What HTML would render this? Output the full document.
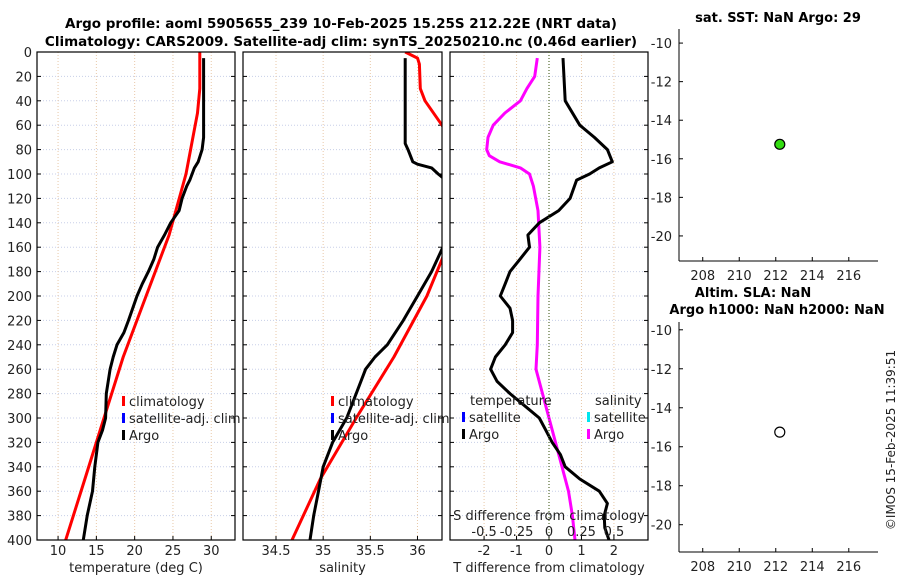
<!DOCTYPE html>
<html><head><meta charset="utf-8"><style>
body{margin:0;background:#fff}
svg{display:block;font-family:"DejaVu Sans","Liberation Sans",sans-serif}
</style></head><body>
<svg id="c" width="900" height="580" xmlns="http://www.w3.org/2000/svg">
<rect width="900" height="580" fill="#fff"/>
<text x="341" y="28" text-anchor="middle" font-size="13.5" font-weight="bold">Argo profile: aoml 5905655_239 10-Feb-2025 15.25S 212.22E (NRT data)</text>
<text x="341" y="46" text-anchor="middle" font-size="13.5" font-weight="bold">Climatology: CARS2009. Satellite-adj clim: synTS_20250210.nc (0.46d earlier)</text>
<text x="778" y="22" text-anchor="middle" font-size="13" font-weight="bold">sat. SST: NaN Argo: 29</text>
<text x="753" y="297" text-anchor="middle" font-size="13" font-weight="bold">Altim. SLA: NaN</text>
<text x="777" y="314" text-anchor="middle" font-size="13" font-weight="bold">Argo h1000: NaN h2000: NaN</text>
<text transform="translate(895,440) rotate(-90)" text-anchor="middle" font-size="12" fill="#222">©IMOS 15-Feb-2025 11:39:51</text>
</svg>
<script>
// ---- data ----
const depthTicks=[0,20,40,60,80,100,120,140,160,180,200,220,240,260,280,300,320,340,360,380,400];
const tTicks=[10,15,20,25,30];
const sTicks=[34.5,35,35.5,36];
const dTTicks=[-2,-1,0,1,2];
const dSTicks=[-0.5,-0.25,0,0.25,0.5];
const dSTickLabels=["-0.5","-0.25","0","0.25","0.5"];
const argoTDepth=[5,70,80,90,95,100,105,110,120,130,140,150,160,170,180,190,200,220,230,240,250,260,280,300,310,320,340,360,380,400];
const argoTemp=[29.0,29.0,28.8,28.3,27.8,27.5,27.2,26.8,26.2,25.8,24.7,23.9,23.0,22.5,21.8,21.0,20.3,19.2,18.6,17.7,17.2,16.8,16.3,16.2,15.8,15.2,14.8,14.5,13.8,13.3];
const climTDepth=[0,30,50,100,150,200,250,300,350,400];
const climTemp=[28.5,28.5,28.2,26.7,24.5,21.5,18.5,16.0,13.5,11.0];
const argoSDepth=[5,75,80,90,92,95,100,105,120,160,180,200,220,240,250,260,280,300,320,340,360,380,400];
const argoSal=[35.87,35.87,35.9,35.95,36.0,36.15,36.22,36.3,36.5,36.27,36.15,36.0,35.85,35.68,35.55,35.45,35.35,35.25,35.1,35.0,34.95,34.9,34.86];
const climSDepth=[0,5,10,30,40,60,70,120,170,200,250,300,350,400];
const climSal=[35.87,36.0,36.02,36.03,36.08,36.26,36.35,36.5,36.26,36.1,35.75,35.35,34.97,34.67];
const dTDepth=[5,40,60,70,80,90,95,100,105,120,130,140,150,160,170,180,190,200,210,220,230,240,250,260,270,280,290,300,310,320,330,340,350,360,370,380,390,400];
const dTVals=[0.43,0.5,0.95,1.4,1.8,1.95,1.55,1.25,0.85,0.65,0.3,-0.3,-0.65,-0.6,-0.9,-1.2,-1.35,-1.5,-1.2,-1.12,-1.12,-1.35,-1.65,-1.8,-1.6,-1.2,-0.75,-0.3,-0.1,0.1,0.35,0.5,0.95,1.55,1.8,1.7,1.72,1.85];
const dSDepth=[5,20,30,40,50,60,70,80,85,90,95,100,110,130,160,200,240,260,280,300,320,340,360,380,400];
const dSVals=[-0.09,-0.11,-0.17,-0.22,-0.34,-0.43,-0.47,-0.48,-0.46,-0.38,-0.22,-0.15,-0.12,-0.085,-0.07,-0.085,-0.09,-0.1,-0.05,0,0.05,0.1,0.15,0.18,0.2];
const lonTicks=[208,210,212,214,216];
const latTicks=[-10,-12,-14,-16,-18,-20];
const floatLon=[212.22];
const floatLat=[-15.25];

const svg=document.getElementById('c');
const NS='http://www.w3.org/2000/svg';
function el(tag,attrs,parent){const e=document.createElementNS(NS,tag);for(const k in attrs)e.setAttribute(k,attrs[k]);(parent||svg).appendChild(e);return e;}
const Y0=52,Y1=540;
const yD=d=>Y0+(d/400)*(Y1-Y0);

function profilePanel(name,x0,x1,xmin,xmax,ticks,labels,xlabel,showY){
  const g=el('g',{});
  
  
  const sx=v=>x0+(v-xmin)/(xmax-xmin)*(x1-x0);
  const cid='clip-'+name;
  const cp=el('clipPath',{id:cid},g);el('rect',{x:x0,y:Y0,width:x1-x0,height:Y1-Y0},cp);
  depthTicks.forEach(d=>{const l=el('line',{x1:x0,x2:x1,y1:yD(d),y2:yD(d),stroke:'#c8cfe8','stroke-width':1,'stroke-dasharray':'1,2'},g);
    
    el('line',{x1:x0,x2:x0+4,y1:yD(d),y2:yD(d),stroke:'#000'},g);el('line',{x1:x1,x2:x1-4,y1:yD(d),y2:yD(d),stroke:'#000'},g);
    if(showY){const t=el('text',{x:x0-5,y:yD(d)+5,'text-anchor':'end','font-size':13,fill:'#222'},g);t.textContent=d;
      }
  });
  ticks.forEach((v,i)=>{const l=el('line',{x1:sx(v),x2:sx(v),y1:Y0,y2:Y1,stroke:'#e8c8a8','stroke-width':1,'stroke-dasharray':'1,2'},g);
    
    el('line',{x1:sx(v),x2:sx(v),y1:Y1,y2:Y1-4,stroke:'#000'},g);
    const t=el('text',{x:sx(v),y:Y1+15,'text-anchor':'middle','font-size':13,fill:'#222'},g);t.textContent=labels[i];
    });
  const xl=el('text',{x:(x0+x1)/2,y:Y1+32,'text-anchor':'middle','font-size':13,fill:'#222'},g);xl.textContent=xlabel;
  
  const plot=el('g',{'clip-path':'url(#'+cid+')'},g);
  const fr=el('rect',{x:x0,y:Y0,width:x1-x0,height:Y1-Y0,fill:'none',stroke:'#000','stroke-width':1.2},g);
  
  return {g,plot,sx};
}
function line(p,sx,xs,ds,color,name){
  const pts=xs.map((v,i)=>sx(v).toFixed(1)+','+yD(ds[i]).toFixed(1)).join(' ');
  const l=el('polyline',{points:pts,fill:'none',stroke:color,'stroke-width':3,'stroke-linejoin':'round'},p);
  
}
function legend(g,x,y,items){
  items.forEach((it,i)=>{
    el('rect',{x:x,y:y+i*17-10,width:3,height:10,fill:it[1]},g);
    const t=el('text',{x:x+7,y:y+i*17,'font-size':13,fill:'#222'},g);t.textContent=it[0];
    
  });
}

// Panel 1 temperature
const p1=profilePanel('temperature-panel',37,235,7.25,33.1,tTicks,tTicks.map(String),'temperature (deg C)',true);
line(p1.plot,p1.sx,climTemp,climTDepth,'#ff0000','climatology-temp-line');
line(p1.plot,p1.sx,argoTemp,argoTDepth,'#000','argo-temp-line');
legend(p1.g,122,406,[['climatology','#ff0000'],['satellite-adj. clim','#0000ff'],['Argo','#000']]);

// Panel 2 salinity
const p2=profilePanel('salinity-panel',243,442,34.15,36.26,sTicks,sTicks.map(String),'salinity',false);
line(p2.plot,p2.sx,climSal,climSDepth,'#ff0000','climatology-sal-line');
line(p2.plot,p2.sx,argoSal,argoSDepth,'#000','argo-sal-line');
legend(p2.g,331,406,[['climatology','#ff0000'],['satellite-adj. clim','#0000ff'],['Argo','#000']]);

// Panel 3 differences
const p3=profilePanel('difference-panel',450,648,-3.05,3.05,dTTicks,dTTicks.map(String),'T difference from climatology',false);
const sxS=v=>p3.sx(v*4);
const zl=el('line',{x1:p3.sx(0),x2:p3.sx(0),y1:Y0,y2:Y1,stroke:'#556b2f','stroke-dasharray':'1,2','stroke-width':1.2},p3.g);

line(p3.plot,sxS,dSVals,dSDepth,'#ff00ff','argo-sal-diff-line');
line(p3.plot,p3.sx,dTVals,dTDepth,'#000','argo-temp-diff-line');
{const t=el('text',{x:470,y:405,'font-size':13,fill:'#222'},p3.g);t.textContent='temperature';}
{const t=el('text',{x:595,y:405,'font-size':13,fill:'#222'},p3.g);t.textContent='salinity';}
legend(p3.g,462,422,[['satellite','#0000ff'],['Argo','#000']]);
legend(p3.g,587,422,[['satellite','#00e5ee'],['Argo','#ff00ff']]);
{const t=el('text',{x:549,y:520,'text-anchor':'middle','font-size':13,fill:'#222'},p3.g);t.textContent='S difference from climatology';}
dSTicks.forEach((v,i)=>{const t=el('text',{x:sxS(v),y:536,'text-anchor':'middle','font-size':13,fill:'#222'},p3.g);t.textContent=dSTickLabels[i];
  });

// Map panels
function mapPanel(name,y0,y1,latTop,latBot,fill){
  const x0=679,x1=878,lonMin=206.7,lonMax=217.6;
  const g=el('g',{});
  const sx=v=>x0+(v-lonMin)/(lonMax-lonMin)*(x1-x0);
  const sy=v=>y0+(latTop-v)/(latTop-latBot)*(y1-y0);
  el('line',{x1:x0,x2:x0,y1:y0,y2:y1,stroke:'#000'},g);el('line',{x1:x0,x2:x1,y1:y1,y2:y1,stroke:'#000'},g);
  lonTicks.forEach(v=>{el('line',{x1:sx(v),x2:sx(v),y1:y1,y2:y1-4,stroke:'#000'},g);
    const t=el('text',{x:sx(v),y:y1+19,'text-anchor':'middle','font-size':13,fill:'#222'},g);t.textContent=v;
    });
  latTicks.forEach(v=>{el('line',{x1:x0,x2:x0+4,y1:sy(v),y2:sy(v),stroke:'#000'},g);
    const t=el('text',{x:x0-7,y:sy(v)+5,'text-anchor':'end','font-size':13,fill:'#222'},g);t.textContent=v;
    });
  floatLon.forEach((lo,i)=>{const c=el('circle',{cx:sx(lo),cy:sy(floatLat[i]),r:5,fill:fill,stroke:'#000','stroke-width':1.2},g);
    });
}
mapPanel('sst-map',29,261,-9.27,-21.3,'#33dd11');
mapPanel('sla-map',322,552,-9.6,-21.4,'#ffffff');
</script>
</body></html>
